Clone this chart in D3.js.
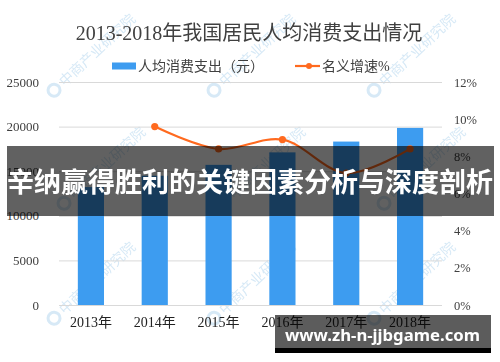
<!DOCTYPE html>
<html><head><meta charset="utf-8">
<script src="https://cdn.jsdelivr.net/npm/d3@7"></script>
<style>html,body{margin:0;padding:0;background:#fff;}svg{display:block;}</style>
</head><body>
<script>
const years = ["2013年","2014年","2015年","2016年","2017年","2018年"];
const spending = [13220,14491,15712,17111,18322,19853];
const growth = [null,9.6,8.4,8.9,7.1,8.4];
const leftTicks = [0,5000,10000,15000,20000,25000];
const rightTicks = [0,2,4,6,8,10,12];
const titleText = "2013-2018年我国居民人均消费支出情况";
const legendNames = ["人均消费支出（元）","名义增速%"];
const bannerText = "辛纳赢得胜利的关键因素分析与深度剖析";
const siteText = "www.zh-n-jjbgame.com";
const watermarkText = "中商产业研究院";

const W=500,H=362;
const svg=d3.select("body").append("svg").attr("width",W).attr("height",H);
const serif="'Liberation Serif','Noto Sans CJK SC',serif";
const textColor="#404040";
const barColor="#3d9cf0";
const lineColor="#ff6a1f";

const x=d3.scaleBand().domain(years).range([59,442]).paddingInner(0.59).paddingOuter(0.295);
const yL=d3.scaleLinear().domain([0,25000]).range([305,82]);
const yR=d3.scaleLinear().domain([0,12]).range([305,82]);

// watermarks
const wm=svg.append("g").attr("opacity",0.35);
const wmPos=[[95,52],[255,52],[415,52],[105,165],[265,165],[425,165],[95,280],[255,280],[415,280]];
wmPos.forEach(([cx,cy])=>{
  const g=wm.append("g").attr("transform",`translate(${cx},${cy}) rotate(-43)`);
  g.append("circle").attr("cx",-56).attr("cy",0).attr("r",6).attr("fill","none").attr("stroke","#8cc0e6").attr("stroke-width",3);
  g.append("text").attr("x",-46).attr("y",5).attr("font-size",14).attr("font-family","'Noto Sans CJK SC'")
   .attr("fill","#8cc0e6").text(watermarkText);
});

// gridlines
svg.append("g").attr("transform","translate(59,0)")
  .call(d3.axisLeft(yL).tickValues(leftTicks).tickSize(-(442-59)).tickFormat(""))
  .call(g=>g.select(".domain").remove())
  .call(g=>g.selectAll("line").attr("stroke","#d9d9d9"));

// left axis labels
svg.append("g").attr("transform","translate(39,0)")
  .call(d3.axisLeft(yL).tickValues(leftTicks).tickSize(0).tickPadding(0).tickFormat(d=>d))
  .call(g=>g.select(".domain").remove())
  .call(g=>g.selectAll("text").attr("font-size",13).attr("font-family",serif).attr("fill",textColor));

// right axis labels
svg.append("g").attr("transform","translate(454,0)")
  .call(d3.axisRight(yR).tickValues(rightTicks).tickSize(0).tickPadding(0).tickFormat(d=>d+"%"))
  .call(g=>g.select(".domain").remove())
  .call(g=>g.selectAll("text").attr("font-size",12.5).attr("font-family",serif).attr("fill",textColor));

// x axis labels
svg.append("g").attr("transform","translate(0,305)")
  .call(d3.axisBottom(x).tickSize(0).tickPadding(12))
  .call(g=>g.select(".domain").remove())
  .call(g=>g.selectAll("text").attr("font-size",14).attr("font-family",serif).attr("fill","#222"));

// bars
svg.append("g").selectAll("rect").data(years).join("rect")
  .attr("x",d=>x(d)).attr("width",x.bandwidth())
  .attr("y",(d,i)=>yL(spending[i])).attr("height",(d,i)=>yL(0)-yL(spending[i]))
  .attr("fill",barColor);

// line
const pts=years.map((d,i)=>({x:x(d)+x.bandwidth()/2,v:growth[i]})).filter(p=>p.v!=null);
svg.append("path").datum(pts)
  .attr("d",d3.line().x(p=>p.x).y(p=>yR(p.v)).curve(d3.curveCatmullRom.alpha(0.5)))
  .attr("fill","none").attr("stroke",lineColor).attr("stroke-width",2.2);
svg.append("g").selectAll("circle").data(pts).join("circle")
  .attr("cx",p=>p.x).attr("cy",p=>yR(p.v)).attr("r",3.6).attr("fill",lineColor);

// title
svg.append("text").attr("x",249).attr("y",40).attr("text-anchor","middle")
  .attr("font-size",20).attr("font-family",serif).attr("fill",textColor).text(titleText);

// legend
svg.append("rect").attr("x",112).attr("y",62.5).attr("width",24).attr("height",7).attr("fill",barColor);
svg.append("text").attr("x",138).attr("y",71).attr("font-size",14).attr("font-family",serif).attr("fill",textColor).text(legendNames[0]);
svg.append("line").attr("x1",295).attr("x2",320).attr("y1",66).attr("y2",66).attr("stroke",lineColor).attr("stroke-width",2.2);
svg.append("circle").attr("cx",309).attr("cy",66).attr("r",3).attr("fill",lineColor);
svg.append("text").attr("x",322).attr("y",71).attr("font-size",14).attr("font-family",serif).attr("fill",textColor).text(legendNames[1]);

// overlay banner
svg.append("rect").attr("x",7).attr("y",146).attr("width",487).attr("height",70).attr("fill","rgba(0,0,0,0.62)");
svg.append("text").attr("x",250).attr("y",192).attr("text-anchor","middle")
  .attr("font-size",27).attr("font-weight","bold").attr("font-family","'Noto Sans CJK SC'")
  .attr("fill","#fff").text(bannerText);

// site banner
svg.append("rect").attr("x",275).attr("y",315).attr("width",216).attr("height",34).attr("fill","rgba(0,0,0,0.64)");
svg.append("rect").attr("x",275).attr("y",348).attr("width",216).attr("height",5).attr("fill","#000");
svg.append("text").attr("x",285).attr("y",341).attr("font-size",16).attr("font-weight","bold")
  .attr("font-family","'Noto Sans','DejaVu Sans',sans-serif").attr("fill","#fff")
  .attr("textLength",195).attr("lengthAdjust","spacingAndGlyphs").text(siteText);
</script>
</body></html>
